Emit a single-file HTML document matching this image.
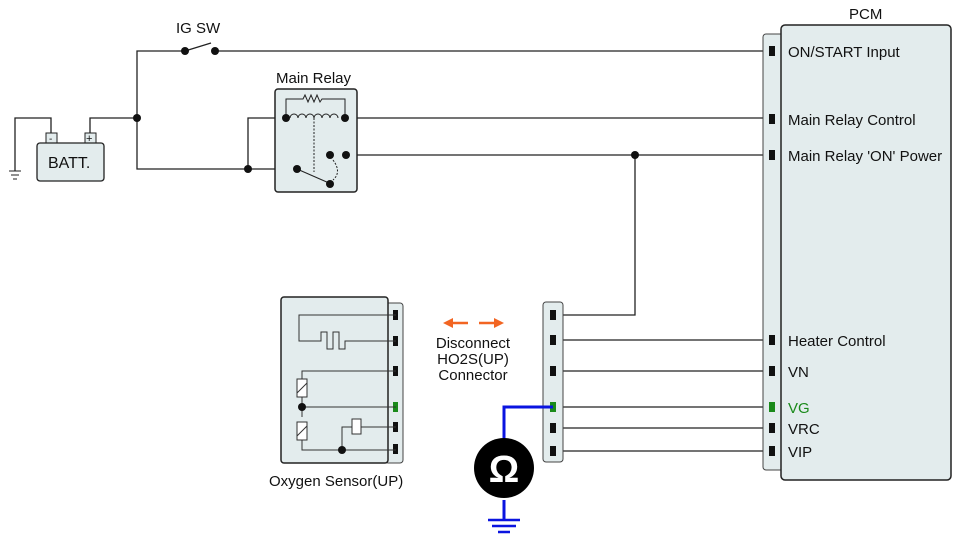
<!DOCTYPE html>
<html><head><meta charset="utf-8"><style>
html,body{margin:0;padding:0;background:#fff}
svg{display:block}
text{font-family:"Liberation Sans",sans-serif;font-size:15px;fill:#111}
</style></head><body>
<svg width="962" height="552" viewBox="0 0 962 552" xmlns="http://www.w3.org/2000/svg">
<g fill="none" stroke="#222" stroke-width="1.3">
<path d="M137,118 V51 H185"/>
<path d="M185,51 L211,43"/>
<path d="M215,51 H772"/>
<path d="M90,134 V118 H137 V169 H297"/>
<path d="M15,171 V118 H51 V134"/>
<path d="M248,169 V118 H346"/>
<path d="M346,118 H772"/>
<path d="M333,155 H772"/>
<path d="M635,155 V315 H553"/>
<path d="M553,340 H772 M553,371 H772 M553,407 H772 M553,428 H772 M553,451 H772"/>
</g>
<g stroke="#222" stroke-width="1"><path d="M9,171 H21 M11,175 H19 M13,179 H17"/></g>
<rect x="46" y="133" width="11" height="10" fill="#e3eced" stroke="#222"/>
<rect x="85" y="133" width="11" height="10" fill="#e3eced" stroke="#222"/>
<text x="49" y="142" style="font-size:10px">-</text>
<text x="86" y="142" style="font-size:11px">+</text>
<rect x="37" y="143" width="67" height="38" rx="3" fill="#e3eced" stroke="#222" stroke-width="1.3"/>
<text x="48" y="168" style="font-size:16px">BATT.</text>
<text x="176" y="33">IG SW</text>
<circle cx="185" cy="51" r="4" fill="#111"/><circle cx="215" cy="51" r="4" fill="#111"/>
<circle cx="137" cy="118" r="4" fill="#111"/><circle cx="248" cy="169" r="4" fill="#111"/>
<circle cx="635" cy="155" r="4" fill="#111"/>
<text x="276" y="83">Main Relay</text>
<rect x="275" y="89" width="82" height="103" rx="3" fill="#e3eced" stroke="#222" stroke-width="1.5"/>
<g fill="none" stroke="#222" stroke-width="1">
<path d="M286,118 V99 H303 L305,95 L308,102 L311,95 L314,102 L317,95 L320,102 L322,99 H345 V118"/>
<path d="M290,118 a4,4 0 0 1 8,0 a4,4 0 0 1 8,0 a4,4 0 0 1 8,0 a4,4 0 0 1 8,0 a4,4 0 0 1 8,0 a4,4 0 0 1 8,0"/>
<path d="M314,118 V172" stroke-dasharray="2,1.5"/>
<path d="M333,160 Q342,172 333,180" stroke-dasharray="2,1.5"/>
<path d="M297,169 L329,183"/>
</g>
<circle cx="286" cy="118" r="4" fill="#111"/><circle cx="345" cy="118" r="4" fill="#111"/>
<circle cx="330" cy="155" r="4" fill="#111"/><circle cx="346" cy="155" r="4" fill="#111"/>
<circle cx="297" cy="169" r="4" fill="#111"/><circle cx="330" cy="184" r="4" fill="#111"/>
<text x="849" y="19">PCM</text>
<rect x="763" y="34" width="22" height="436" rx="3" fill="#e3eced" stroke="#444" stroke-width="1"/>
<rect x="781" y="25" width="170" height="455" rx="4" fill="#e3eced" stroke="#222" stroke-width="1.5"/>
<g fill="#111">
<rect x="769" y="46" width="6" height="10"/><rect x="769" y="114" width="6" height="10"/>
<rect x="769" y="150" width="6" height="10"/><rect x="769" y="335" width="6" height="10"/>
<rect x="769" y="366" width="6" height="10"/><rect x="769" y="402" width="6" height="10" fill="#1a8a1a"/>
<rect x="769" y="423" width="6" height="10"/><rect x="769" y="446" width="6" height="10"/>
</g>
<text x="788" y="57">ON/START Input</text>
<text x="788" y="125">Main Relay Control</text>
<text x="788" y="161">Main Relay 'ON' Power</text>
<text x="788" y="346">Heater Control</text>
<text x="788" y="377">VN</text>
<text x="788" y="413" style="fill:#1a8a1a">VG</text>
<text x="788" y="434">VRC</text>
<text x="788" y="457">VIP</text>
<rect x="543" y="302" width="20" height="160" rx="3" fill="#e3eced" stroke="#444"/>
<g fill="#111">
<rect x="550" y="310" width="6" height="10"/><rect x="550" y="335" width="6" height="10"/>
<rect x="550" y="366" width="6" height="10"/><rect x="550" y="402" width="6" height="10" fill="#1a8a1a"/>
<rect x="550" y="423" width="6" height="10"/><rect x="550" y="446" width="6" height="10"/>
</g>
<path d="M452,323 H468" stroke="#f26522" stroke-width="2.5"/>
<path d="M443,323 L453,318 L453,328z" fill="#f26522"/>
<path d="M479,323 H495" stroke="#f26522" stroke-width="2.5"/>
<path d="M504,323 L494,318 L494,328z" fill="#f26522"/>
<text x="473" y="348" text-anchor="middle">Disconnect</text>
<text x="473" y="364" text-anchor="middle">HO2S(UP)</text>
<text x="473" y="380" text-anchor="middle">Connector</text>
<path d="M553,407 H504 V440 M504,500 V520" fill="none" stroke="#0a14e0" stroke-width="3"/>
<path d="M488,520 H520 M492,526 H516 M498,532 H510" stroke="#0a14e0" stroke-width="2.5"/>
<circle cx="504" cy="468" r="30" fill="#000"/>
<text x="504" y="482" text-anchor="middle" style="font-size:38px;fill:#fff;font-weight:bold">Ω</text>
<rect x="385" y="303" width="18" height="160" rx="3" fill="#e3eced" stroke="#444"/>
<rect x="281" y="297" width="107" height="166" rx="3" fill="#e3eced" stroke="#222" stroke-width="1.5"/>
<g fill="#111">
<rect x="393" y="310" width="5" height="10"/><rect x="393" y="336" width="5" height="10"/>
<rect x="393" y="366" width="5" height="10"/><rect x="393" y="402" width="5" height="10" fill="#1a8a1a"/>
<rect x="393" y="422" width="5" height="10"/><rect x="393" y="444" width="5" height="10"/>
</g>
<g fill="none" stroke="#333" stroke-width="1">
<path d="M396,315 H299 V341 H321 V332 H327 V349 H333 V332 H339 V349 H345 V341 H396"/>
<path d="M396,371 H302 V379 M302,397 V417 M302,440 V450 H396"/>
<path d="M302,407 H396"/>
<path d="M342,450 V427 H352 M361,427 H396"/>
</g>
<rect x="297" y="379" width="10" height="18" fill="#fff" stroke="#333"/>
<path d="M297,393 L307,383" stroke="#333"/>
<rect x="297" y="422" width="10" height="18" fill="#fff" stroke="#333"/>
<path d="M297,436 L307,426" stroke="#333"/>
<rect x="352" y="419" width="9" height="15" fill="#fff" stroke="#333"/>
<circle cx="302" cy="407" r="4" fill="#111"/><circle cx="342" cy="450" r="4" fill="#111"/>
<text x="269" y="486">Oxygen Sensor(UP)</text>
</svg>
</body></html>
